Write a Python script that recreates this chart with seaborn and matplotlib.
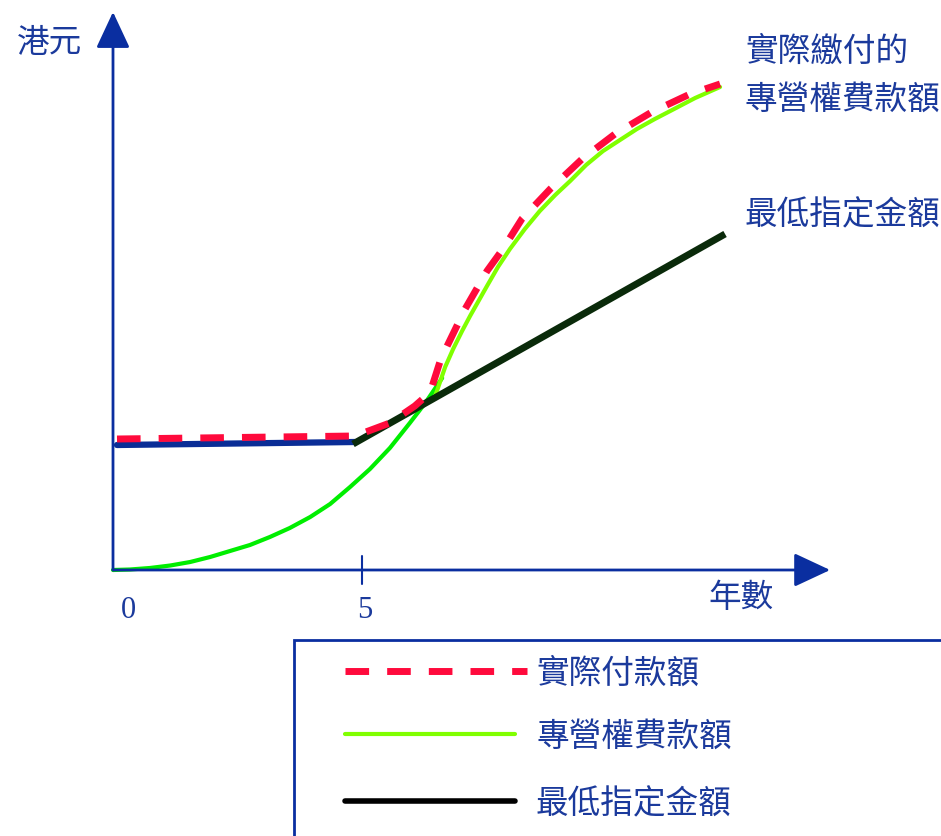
import matplotlib
matplotlib.use('Agg')
import matplotlib.pyplot as plt
import seaborn as sns
from matplotlib.patches import Rectangle
from matplotlib.lines import Line2D

# data (x = years, y = HK$ in arbitrary units)
min_flat_years = [0.08, 4.86]
min_flat_vals = [12.5, 12.8]

min_rise_years = [4.82, 12.29]
min_rise_vals = [12.6, 33.6]

fee_low_years = [0, 0.34, 0.74, 1.15, 1.55, 1.95, 2.35, 2.75, 3.15, 3.55, 3.96,
                 4.36, 4.76, 5.16, 5.56, 5.96, 6.27, 6.61]
fee_low_vals = [0, 0.05, 0.2, 0.45, 0.8, 1.3, 1.9, 2.5, 3.3, 4.2, 5.3,
                6.6, 8.3, 10.1, 12.2, 14.7, 16.7, 19.2]

fee_high_years = [6.47, 6.67, 6.83, 7.01, 7.17, 7.51, 7.73, 7.97, 8.27, 8.57, 8.88,
                  9.18, 9.50, 9.84, 10.18, 10.52, 10.88, 11.19, 11.69, 12.19]
fee_high_vals = [17.4, 20.3, 22.1, 23.9, 25.4, 28.4, 30.3, 32.1, 34.1, 35.9, 37.5,
                 38.9, 40.5, 41.9, 43.0, 44.1, 45.1, 45.9, 47.2, 48.3]

paid_years = [0.08, 4.86, 5.56, 6.06, 6.31, 6.41, 6.57, 6.71, 7.07, 7.51, 7.83,
              8.21, 8.78, 9.42, 10.08, 10.82, 11.59, 12.19]
paid_vals = [13.1, 13.4, 14.7, 16.4, 17.5, 18.4, 20.9, 22.4, 26.1, 29.9, 32.1,
             35.1, 38.1, 41.1, 43.6, 45.8, 47.6, 48.6]

tick_labels = ['0', '5']
legend_labels = ['實際付款額', '專營權費款額', '最低指定金額']

W, H = 941, 837
AXIS_BLUE = '#0a2ea0'
TEXT_BLUE = '#1b3a9c'
RED = '#ff0a3c'
FS = 23.5

sns.set_style('white')
plt.rcParams['font.family'] = ['Noto Sans CJK TC', 'DejaVu Sans']


def frac(px, py):
    # pixel position -> axes fraction (axes fill the whole figure)
    return px / W, 1 - py / H


fig = plt.figure(figsize=(W / 100, H / 100), dpi=100)
ax = fig.add_axes([0, 0, 1, 1])
ax.set_xlim(-113 / 49.8, (W - 113) / 49.8)
ax.set_ylim(-(H - 571) / 10, 571 / 10)
ax.axis('off')

# axes with arrow heads
arrow = dict(arrowstyle='-|>,head_length=0.9,head_width=0.42', color=AXIS_BLUE,
             lw=2, mutation_scale=25, shrinkA=0, shrinkB=0)
ax.annotate('', xy=(14.4, 0), xytext=(0, 0), arrowprops=arrow)
ax.annotate('', xy=(0, 55.8), xytext=(0, 0), arrowprops=arrow)
ax.plot([5, 5], [-1.4, 1.4], color=AXIS_BLUE, lw=1.5)

# curves
sns.lineplot(x=fee_low_years, y=fee_low_vals, color='#00ee00', lw=3, sort=False, ax=ax)
sns.lineplot(x=fee_high_years, y=fee_high_vals, color='#80ff00', lw=3, sort=False, ax=ax)
sns.lineplot(x=min_flat_years, y=min_flat_vals, color='#0a2d96', lw=4.5, sort=False, ax=ax)
sns.lineplot(x=min_rise_years, y=min_rise_vals, color='#0a2a0a', lw=5, sort=False, ax=ax,
             solid_capstyle='butt')
sns.lineplot(x=paid_years, y=paid_vals, color=RED, lw=5, sort=False, ax=ax,
             linestyle=(0, (3.4, 2.6)), dash_capstyle='butt')

# axis texts
ax.text(*frac(49, 43), '港元', color=TEXT_BLUE, fontsize=FS, ha='center', va='center',
        transform=ax.transAxes)
ax.text(*frac(741, 598), '年數', color=TEXT_BLUE, fontsize=FS, ha='center', va='center',
        transform=ax.transAxes)
for lab, xp in zip(tick_labels, [128, 365]):
    ax.text(*frac(xp, 610), lab, color=TEXT_BLUE, fontsize=22, family='Liberation Serif',
            ha='center', va='center', transform=ax.transAxes)

# curve annotations
ax.text(*frac(745, 52), '實際繳付的', color=TEXT_BLUE, fontsize=FS, ha='left',
        va='center', transform=ax.transAxes)
ax.text(*frac(745, 100), '專營權費款額', color=TEXT_BLUE, fontsize=FS, ha='left',
        va='center', transform=ax.transAxes)
ax.text(*frac(745, 215), '最低指定金額', color=TEXT_BLUE, fontsize=FS, ha='left',
        va='center', transform=ax.transAxes)

# legend box, running off the right and bottom edge
x0, y0 = frac(294, 900)
x1, y1 = frac(1000, 641)
ax.add_patch(Rectangle((x0, y0), x1 - x0, y1 - y0, transform=ax.transAxes,
                       fill=False, edgecolor=AXIS_BLUE, lw=2, clip_on=False))

leg_styles = [
    dict(color=RED, lw=5, linestyle=(0, (3.4, 2.6)), dash_capstyle='butt', end=527),
    dict(color='#80ff00', lw=3, linestyle='-', end=515),
    dict(color='black', lw=4, linestyle='-', end=515),
]
for lab, st, yp in zip(legend_labels, leg_styles, [672, 735, 802]):
    end = st.pop('end')
    xa, ya = frac(345, yp)
    xb, _ = frac(end, yp)
    ax.add_line(Line2D([xa, xb], [ya, ya], transform=ax.transAxes, **st))
    ax.text(*frac(536, yp + 2), lab, color=TEXT_BLUE, fontsize=FS, ha='left',
            va='center', transform=ax.transAxes)

fig.savefig('out.png', dpi=100)
